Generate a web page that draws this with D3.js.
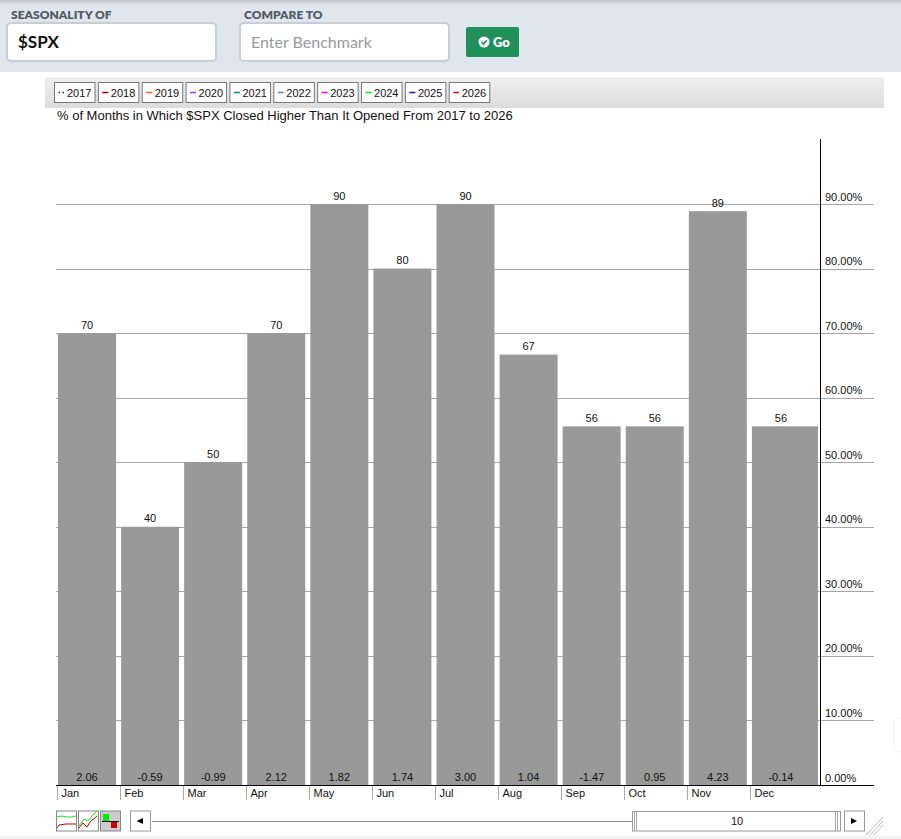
<!DOCTYPE html>
<html>
<head>
<meta charset="utf-8">
<script src="https://cdn.jsdelivr.net/npm/d3@7/dist/d3.min.js"></script>
<style>
  html, body { margin: 0; padding: 0; background: #fff; overflow: hidden; }
  svg { display: block; }
  text { font-family: "Liberation Sans", Arial, sans-serif; font-size: 11px; fill: #111; }
  .ui { font-family: Lato, sans-serif; }
</style>
</head>
<body>
<div id="chart"></div>
<script>
const months = ["Jan", "Feb", "Mar", "Apr", "May", "Jun", "Jul", "Aug", "Sep", "Oct", "Nov", "Dec"];
const pctHigher = [70, 40, 50, 70, 90, 80, 90, 66.67, 55.56, 55.56, 88.89, 55.56];
const avgChange = ["2.06", "-0.59", "-0.99", "2.12", "1.82", "1.74", "3.00", "1.04", "-1.47", "0.95", "4.23", "-0.14"];
const yTicks = [0, 10, 20, 30, 40, 50, 60, 70, 80, 90];
const legendYears = ["2017", "2018", "2019", "2020", "2021", "2022", "2023", "2024", "2025", "2026"];
const legendColors = ["#2200cc", "#8b0000", "#ff6600", "#9933ff", "#008b8b", "#808080", "#ff00ff", "#00ff00", "#3300cc", "#ff0000"];

const width = 901, height = 839;
const svg = d3.select("#chart").append("svg").attr("width", width).attr("height", height);

// top search bar
svg.append("rect").attr("width", width).attr("height", 72).attr("fill", "#dfe6ed");
const topShade = svg.append("defs").append("linearGradient").attr("id", "topShade").attr("x2", 0).attr("y2", 1);
topShade.append("stop").attr("offset", 0).attr("stop-color", "#c2c8cd");
topShade.append("stop").attr("offset", 1).attr("stop-color", "#dfe6ed");
svg.append("rect").attr("width", width).attr("height", 5).attr("fill", "url(#topShade)");

function inputBox(x, label, value, color, weight, size, textX) {
  svg.append("text").attr("class", "ui").attr("x", x + 4).attr("y", 19)
    .style("font-size", "12px").style("font-weight", 800).style("fill", "#515c66").text(label);
  svg.append("rect").attr("x", x).attr("y", 23).attr("width", 209).attr("height", 38).attr("rx", 4)
    .attr("fill", "#fff").attr("stroke", "#c3d0da").attr("stroke-width", 2);
  svg.append("text").attr("class", "ui").attr("x", textX).attr("y", 48)
    .style("font-size", size).style("font-weight", weight).style("fill", color).text(value);
}
inputBox(7, "SEASONALITY OF", "$SPX", "#111", 700, "17px", 18);
inputBox(233 + 7, "COMPARE TO", "Enter Benchmark", "#9a9a9a", 400, "16px", 251);

svg.append("rect").attr("x", 466).attr("y", 27).attr("width", 53).attr("height", 30).attr("rx", 2).attr("fill", "#21915a");
svg.append("circle").attr("cx", 484).attr("cy", 42).attr("r", 5.5).attr("fill", "#fff");
svg.append("path").attr("d", "M481.4,42 L483.4,44.2 L486.8,40.2").attr("fill", "none").attr("stroke", "#21915a").attr("stroke-width", 1.6);
svg.append("text").attr("class", "ui").attr("x", 493).attr("y", 46.5)
  .style("font-size", "13px").style("font-weight", 800).style("fill", "#fff").text("Go");

// legend strip
const stripShade = svg.select("defs").append("linearGradient").attr("id", "stripShade").attr("x2", 0).attr("y2", 1);
stripShade.append("stop").attr("offset", 0).attr("stop-color", "#efefef");
stripShade.append("stop").attr("offset", 1).attr("stop-color", "#dcdcdc");
svg.append("rect").attr("x", 45).attr("y", 77).attr("width", 839).attr("height", 31).attr("fill", "url(#stripShade)");

const legendX = d3.scaleLinear().domain([0, legendYears.length]).range([54.5, 480.5 + 12.6]);
const legend = svg.selectAll("g.legend").data(legendYears).join("g").attr("class", "legend")
  .attr("transform", (d, i) => `translate(${legendX(i)},82.5)`);
legend.append("rect").attr("width", 40.5).attr("height", 20).attr("fill", "#fff").attr("stroke", "#777");
legend.append("rect").attr("x", 0).attr("y", 0).attr("width", 0).attr("height", 0);
legend.append("line").attr("x1", 4).attr("x2", 10).attr("y1", 10).attr("y2", 10)
  .attr("stroke", (d, i) => legendColors[i]).attr("stroke-width", 1.5)
  .attr("stroke-dasharray", (d, i) => i === 0 ? "1.5,2.5" : null);
legend.append("text").attr("x", 12.5).attr("y", 14).text(d => d);

svg.append("text").attr("x", 57).attr("y", 120).style("font-size", "13px")
  .text("% of Months in Which $SPX Closed Higher Than It Opened From 2017 to 2026");

// chart scales
const y = d3.scaleLinear().domain([0, 90]).range([785, 204]);
const x = d3.scaleLinear().domain([0, 12]).range([56.5, 813.5]);
const axisX = 820;

const grid = svg.append("g");
grid.selectAll("line").data(yTicks.filter(d => d > 0)).join("line")
  .attr("x1", 56).attr("x2", 874)
  .attr("y1", d => Math.round(y(d)) + 0.5).attr("y2", d => Math.round(y(d)) + 0.5)
  .attr("stroke", "#a6a6a6");

svg.selectAll("rect.bar").data(pctHigher).join("rect").attr("class", "bar")
  .attr("x", (d, i) => x(i) + 1.5)
  .attr("width", (d, i) => i === months.length - 1 ? axisX - 2 - (x(i) + 1.5) : 58)
  .attr("y", d => y(d))
  .attr("height", d => y(0) - y(d))
  .attr("fill", "#999999");

svg.selectAll("text.pct").data(pctHigher).join("text").attr("class", "pct")
  .attr("x", (d, i) => x(i) + 30.5).attr("y", d => y(d) - 4.5)
  .attr("text-anchor", "middle").text(d => Math.round(d));

svg.selectAll("text.chg").data(avgChange).join("text").attr("class", "chg")
  .attr("x", (d, i) => x(i) + 30.5).attr("y", 781)
  .attr("text-anchor", "middle").text(d => d);

// axes
svg.append("line").attr("x1", axisX + 0.5).attr("x2", axisX + 0.5).attr("y1", 139).attr("y2", 785).attr("stroke", "#000");
svg.append("line").attr("x1", 56).attr("x2", 874).attr("y1", 785.5).attr("y2", 785.5).attr("stroke", "#000");

svg.selectAll("text.ytick").data(yTicks).join("text").attr("class", "ytick")
  .attr("x", 825).attr("y", d => y(d) - 3.5)
  .text(d => d3.format(".2f")(d) + "%");

const monthTick = svg.selectAll("g.month").data(months).join("g").attr("class", "month")
  .attr("transform", (d, i) => `translate(${Math.round(x(i)) + 0.5},786)`);
monthTick.append("line").attr("y2", 14).attr("stroke", "#aaa");
monthTick.append("text").attr("x", 4).attr("y", 11).text(d => d);

// chart type buttons
const btnY = 811;
function chartButton(bx, fill) {
  svg.append("rect").attr("x", bx).attr("y", btnY).attr("width", 20).attr("height", 20)
    .attr("fill", fill).attr("stroke", "#888");
}
chartButton(56.5, "#fff");
svg.append("path").attr("d", "M57,817 L62,816 L67,817 L72,817 L76,816").attr("fill", "none").attr("stroke", "#22dd22");
svg.append("path").attr("d", "M57,828 L59,825 L66,824 L76,824").attr("fill", "none").attr("stroke", "#cc0000");
chartButton(78.5, "#fff");
svg.append("path").attr("d", "M79,826 L84,819 L88,821 L92,816 L97,811").attr("fill", "none").attr("stroke", "#22dd22");
svg.append("path").attr("d", "M79,828 L83,823 L87,827 L90,822 L97,816").attr("fill", "none").attr("stroke", "#cc0000");
chartButton(100.5, "#cccccc");
svg.append("rect").attr("x", 103).attr("y", 814).attr("width", 6).attr("height", 7).attr("fill", "#00ee00");
svg.append("rect").attr("x", 111).attr("y", 822).attr("width", 6).attr("height", 6).attr("fill", "#cc0000");
svg.append("line").attr("x1", 102).attr("x2", 119).attr("y1", 821.5).attr("y2", 821.5).attr("stroke", "#000");

// range slider
svg.append("rect").attr("x", 130.5).attr("y", 811).attr("width", 20).attr("height", 20).attr("fill", "#fff").attr("stroke", "#999");
svg.append("path").attr("d", "M136.5,821 L143,818 L143,824 Z").attr("fill", "#000");
svg.append("line").attr("x1", 152).attr("x2", 633).attr("y1", 821.5).attr("y2", 821.5).attr("stroke", "#888");
svg.append("rect").attr("x", 632.5).attr("y", 811.5).attr("width", 208).attr("height", 19.5).attr("fill", "#fff").attr("stroke", "#999");
[634.5, 636.5, 835.5, 837.5].forEach(d => svg.append("line").attr("x1", d).attr("x2", d).attr("y1", 812).attr("y2", 831).attr("stroke", "#aaa"));
svg.append("text").attr("x", 737).attr("y", 825).attr("text-anchor", "middle").text("10");
svg.append("rect").attr("x", 844.5).attr("y", 811).attr("width", 20).attr("height", 20).attr("fill", "#fff").attr("stroke", "#999");
svg.append("path").attr("d", "M857,821 L851,818 L851,824 Z").attr("fill", "#000");

// resize grip and page edge
[0, 4, 8].forEach(d => svg.append("line").attr("x1", 884 - d - 10 + 0 ).attr("y1", 835).attr("x2", 884 - 1).attr("y2", 835 - d - 10 + 0 + d * 0).attr("stroke", "#bbb"));
svg.append("rect").attr("y", 836).attr("width", width).attr("height", 3).attr("fill", "#f2f2f2");
svg.append("rect").attr("x", 894).attr("y", 718).attr("width", 20).attr("height", 34).attr("rx", 5).attr("fill", "#fff").attr("stroke", "#f4f4f4");
</script>
</body>
</html>
